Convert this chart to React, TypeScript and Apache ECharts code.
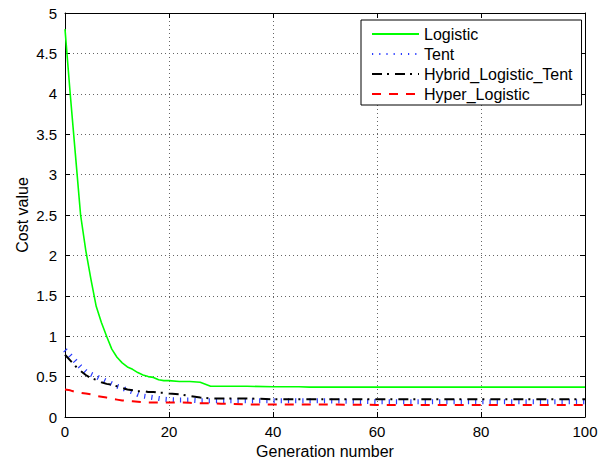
import React, { useEffect, useRef } from "react";
import * as echarts from "echarts";

// Generation numbers at which the cost values were sampled
const generations = [
  0, 1, 2, 3, 4, 5, 6, 7, 8, 9, 10, 11, 12, 13, 14, 15, 16, 17, 18, 19, 20,
  22, 24, 26, 28, 30, 35, 40, 45, 47, 50, 60, 70, 80, 90, 100,
];

const logistic = [
  4.8, 4.0, 3.25, 2.5, 2.06, 1.7, 1.37, 1.17, 1.0, 0.84, 0.74, 0.67, 0.62,
  0.59, 0.55, 0.52, 0.5, 0.49, 0.46, 0.45, 0.45, 0.44, 0.44, 0.43, 0.38, 0.38,
  0.38, 0.375, 0.375, 0.37, 0.37, 0.37, 0.37, 0.37, 0.37, 0.37,
];

const tent = [
  0.83, 0.76, 0.69, 0.62, 0.56, 0.53, 0.5, 0.47, 0.44, 0.41, 0.38, 0.36, 0.33,
  0.31, 0.28, 0.26, 0.25, 0.24, 0.23, 0.22, 0.215, 0.21, 0.21, 0.2, 0.2, 0.2,
  0.2, 0.2, 0.2, 0.2, 0.2, 0.19, 0.19, 0.19, 0.19, 0.19,
];

const hybridLogisticTent = [
  0.77, 0.7, 0.63, 0.57, 0.52, 0.48, 0.46, 0.43, 0.41, 0.4, 0.38, 0.36, 0.34,
  0.33, 0.32, 0.32, 0.31, 0.31, 0.3, 0.3, 0.29, 0.28, 0.26, 0.24, 0.23, 0.23,
  0.23, 0.22, 0.22, 0.22, 0.22, 0.22, 0.22, 0.22, 0.22, 0.22,
];

const hyperLogistic = [
  0.34, 0.33, 0.31, 0.3, 0.29, 0.28, 0.26, 0.25, 0.24, 0.225, 0.215, 0.205,
  0.2, 0.195, 0.19, 0.185, 0.18, 0.18, 0.18, 0.18, 0.18, 0.18, 0.175, 0.17,
  0.17, 0.165, 0.155, 0.155, 0.155, 0.155, 0.155, 0.15, 0.15, 0.15, 0.15, 0.15,
];

const seriesNames = ["Logistic", "Tent", "Hybrid_Logistic_Tent", "Hyper_Logistic"];

const FONT = "'Liberation Sans', Arial, Helvetica, sans-serif";

const pairs = (ys: number[]) => generations.map((g, i) => [g, ys[i]]);

export default function App() {
  const ref = useRef<HTMLDivElement>(null);

  useEffect(() => {
    if (!ref.current) return;
    const chart = echarts.init(ref.current, undefined, { renderer: "svg" });

    const tick = { show: true, inside: true, length: 5, lineStyle: { color: "#000" } };
    const axisLine = { show: true, onZero: false, lineStyle: { color: "#000", width: 1 } };
    const gridLine = { show: true, lineStyle: { color: "#666", type: [1, 3], width: 1 } };

    chart.setOption({
      animation: false,
      backgroundColor: "#fff",
      textStyle: { fontFamily: FONT },
      grid: {
        left: 65,
        right: 26,
        top: 13,
        bottom: 43,
        show: false,
        containLabel: false,
        outerBoundsMode: "none",
      },
      legend: {
        data: seriesNames,
        orient: "vertical",
        left: 361,
        top: 20,
        padding: [6, 9, 3, 10],
        itemWidth: 47,
        itemHeight: 16,
        itemGap: 4,
        backgroundColor: "#fff",
        borderColor: "#000",
        borderWidth: 1,
        borderRadius: 0,
        // only the line sample is shown, no marker on it
        itemStyle: { opacity: 0 },
        textStyle: { fontFamily: FONT, fontSize: 16, color: "#000", lineHeight: 16 },
      },
      xAxis: [
        {
          type: "value",
          min: 0,
          max: 100,
          interval: 20,
          position: "bottom",
          name: "Generation number",
          nameLocation: "middle",
          nameGap: 23,
          nameTextStyle: { fontFamily: FONT, fontSize: 16, color: "#000" },
          axisLine,
          axisTick: tick,
          axisLabel: { fontFamily: FONT, fontSize: 15, color: "#000", margin: 7 },
          splitLine: gridLine,
        },
        {
          type: "value",
          min: 0,
          max: 100,
          interval: 20,
          position: "top",
          axisLine,
          axisTick: tick,
          axisLabel: { show: false },
          splitLine: { show: false },
        },
      ],
      yAxis: [
        {
          type: "value",
          min: 0,
          max: 5,
          interval: 0.5,
          position: "left",
          name: "Cost value",
          nameLocation: "middle",
          nameGap: 35,
          nameMoveOverlap: false,
          nameTextStyle: { fontFamily: FONT, fontSize: 16, color: "#000" },
          axisLine,
          axisTick: tick,
          axisLabel: { fontFamily: FONT, fontSize: 15, color: "#000", margin: 8 },
          splitLine: gridLine,
        },
        {
          type: "value",
          min: 0,
          max: 5,
          interval: 0.5,
          position: "right",
          axisLine,
          axisTick: tick,
          axisLabel: { show: false },
          splitLine: { show: false },
        },
      ],
      series: [
        {
          name: seriesNames[0],
          type: "line",
          data: pairs(logistic),
          showSymbol: false,
          symbol: "none",
          color: "#00ff00",
          lineStyle: { color: "#00ff00", width: 1.6, type: "solid" },
        },
        {
          name: seriesNames[1],
          type: "line",
          data: pairs(tent),
          showSymbol: false,
          symbol: "none",
          color: "#2a3cff",
          lineStyle: { color: "#2a3cff", width: 5, type: [1.2, 6] },
        },
        {
          name: seriesNames[2],
          type: "line",
          data: pairs(hybridLogisticTent),
          showSymbol: false,
          symbol: "none",
          color: "#000000",
          lineStyle: { color: "#000000", width: 2, type: [10, 5, 2, 6] },
        },
        {
          name: seriesNames[3],
          type: "line",
          data: pairs(hyperLogistic),
          showSymbol: false,
          symbol: "none",
          color: "#ff0000",
          lineStyle: { color: "#ff0000", width: 2, type: [9, 8] },
        },
      ],
    });

    return () => chart.dispose();
  }, []);

  return (
    <div
      ref={ref}
      style={{ position: "fixed", left: 0, top: 0, width: 611, height: 460 }}
    />
  );
}
